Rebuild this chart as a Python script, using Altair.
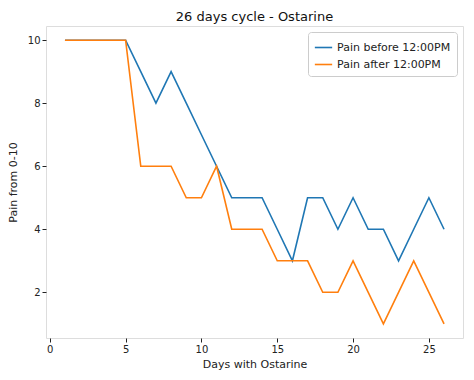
import altair as alt
import pandas as pd

days = list(range(1, 27))
before = [10, 10, 10, 10, 10, 9, 8, 9, 8, 7, 6, 5, 5, 5, 4, 3, 5, 5, 4, 5, 4, 4, 3, 4, 5, 4]
after = [10, 10, 10, 10, 10, 6, 6, 6, 5, 5, 6, 4, 4, 4, 3, 3, 3, 2, 2, 3, 2, 1, 2, 3, 2, 1]
series = ["Pain before 12:00PM", "Pain after 12:00PM"]

rows = []
for d, b in zip(days, before):
    rows.append({"day": d, "pain": b, "series": series[0]})
for d, a in zip(days, after):
    rows.append({"day": d, "pain": a, "series": series[1]})
df = pd.DataFrame(rows)

font = "DejaVu Sans"

chart = alt.Chart(df).mark_line(strokeWidth=1.6).encode(
    x=alt.X("day:Q", scale=alt.Scale(domain=[-0.25, 27.25], nice=False, zero=False),
            axis=alt.Axis(values=[0, 5, 10, 15, 20, 25], title="Days with Ostarine", grid=False,
                          domain=False, tickColor="#222", labelColor="#222", tickSize=4,
                          labelFontSize=10, titleFontSize=11, titleFontWeight="normal",
                          labelFont=font, titleFont=font, titleColor="#222", titlePadding=4)),
    y=alt.Y("pain:Q", scale=alt.Scale(domain=[0.55, 10.45], nice=False, zero=False),
            axis=alt.Axis(values=[2, 4, 6, 8, 10], title="Pain from 0-10", grid=False,
                          domain=False, tickColor="#222", labelColor="#222", tickSize=4,
                          labelFontSize=10, titleFontSize=11, titleFontWeight="normal",
                          labelFont=font, titleFont=font, titleColor="#222", titlePadding=9)),
    color=alt.Color("series:N", scale=alt.Scale(domain=series, range=["#1f77b4", "#ff7f0e"]),
                    sort=series,
                    legend=alt.Legend(title=None, orient="top-right", symbolType="stroke",
                                      symbolSize=300, symbolStrokeWidth=1.6,
                                      labelFont=font, labelFontSize=11, labelColor="#222",
                                      strokeColor="#ccc", fillColor="white", padding=6,
                                      cornerRadius=3, offset=6, rowPadding=2)),
).properties(
    width=417, height=312,
    title=alt.TitleParams("26 days cycle - Ostarine", font=font, fontSize=13,
                          fontWeight="normal", color="#111", offset=2),
    padding={"left": 38, "top": 18, "right": 3, "bottom": 40},
    autosize=alt.AutoSizeParams(type="none"),
).configure_view(stroke="#333", strokeWidth=1).configure(background="white")

chart.save("out.html", embed_options={"renderer": "svg", "actions": False})
